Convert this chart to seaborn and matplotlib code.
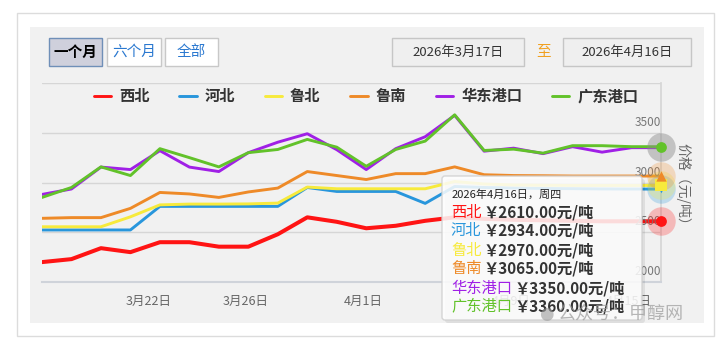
import numpy as np
import pandas as pd
import seaborn as sns
import matplotlib.pyplot as plt
from matplotlib.patches import Rectangle, FancyBboxPatch
import matplotlib.transforms as mtrans

sns.set_theme(style="white")
plt.rcParams['font.family'] = ['Noto Sans CJK SC', 'DejaVu Sans']

# ---------------- data ----------------
dates = ["3/17", "3/18", "3/19", "3/20", "3/23", "3/24", "3/25", "3/26", "3/27",
         "3/30", "3/31", "4/1", "4/2", "4/3", "4/7", "4/8", "4/9", "4/10",
         "4/13", "4/14", "4/15", "4/16"]
series_names = ["西北", "河北", "鲁北", "鲁南", "华东港口", "广东港口"]
xibei = [2200, 2230, 2340, 2300, 2400, 2400, 2355, 2355, 2480, 2650, 2605, 2540,
         2565, 2615, 2650, 2635, 2625, 2620, 2615, 2610, 2610, 2610]
hebei = [2523, 2523, 2523, 2523, 2760, 2760, 2760, 2760, 2760, 2950, 2910, 2910,
         2910, 2790, 2960, 2950, 2945, 2940, 2938, 2935, 2934, 2934]
lubei = [2555, 2555, 2555, 2655, 2775, 2783, 2783, 2785, 2793, 2954, 2937, 2937,
         2937, 2937, 3010, 2985, 2975, 2972, 2970, 2970, 2970, 2970]
lunan = [2640, 2647, 2647, 2740, 2900, 2885, 2850, 2905, 2944, 3110, 3070, 3030,
         3089, 3089, 3157, 3078, 3070, 3068, 3065, 3065, 3065, 3065]
huadong = [2880, 2935, 3155, 3130, 3320, 3155, 3110, 3300, 3405, 3490, 3330, 3130,
           3340, 3460, 3675, 3315, 3345, 3290, 3360, 3305, 3350, 3350]
guangdong = [2850, 2950, 3157, 3070, 3340, 3250, 3157, 3300, 3332, 3433, 3355, 3163,
             3332, 3416, 3680, 3322, 3335, 3295, 3370, 3370, 3360, 3360]
values = [xibei, hebei, lubei, lunan, huadong, guangdong]
colors = ["#ff1414", "#2896dc", "#f7ea3c", "#ee8a28", "#a020e6", "#62c22a"]
tick_labels = ["3月22日", "3月26日", "4月1日", "4月9日", "4月15日"]
tick_pos = [3.63, 6.91, 10.91, 15.91, 19.91]
y_ticks = [2000, 2500, 3000, 3500]
tooltip_date = "2026年4月16日，周四"

df = pd.concat([pd.DataFrame({"idx": np.arange(len(dates)), "date": dates,
                              "series": n, "price": v})
                for n, v in zip(series_names, values)], ignore_index=True)

# ---------------- figure ----------------
W, H = 725, 345
fig = plt.figure(figsize=(W / 100, H / 100), dpi=100)
fig.patch.set_facecolor("white")

def px_axes(zorder):
    a = fig.add_axes([0, 0, 1, 1], zorder=zorder)
    a.set_xlim(0, W)
    a.set_ylim(H, 0)
    a.axis("off")
    a.patch.set_alpha(0)
    return a

bg = px_axes(0)
bg.add_patch(Rectangle((17, 13), 697, 323, fill=False, ec="#dcdcdc", lw=1))
bg.add_patch(Rectangle((30, 27), 674, 296, fc="#f1f1f1", ec="none"))

btns = [("一个月", 49, 102, True), ("六个月", 107, 161, False), ("全部", 165, 218, False)]
for txt, x0, x1, sel in btns:
    bg.add_patch(Rectangle((x0, 38), x1 - x0, 28,
                           fc="#cfd0dc" if sel else "white",
                           ec="#6f8fb8" if sel else "#c8c8c8", lw=1))
    bg.text((x0 + x1) / 2, 52, txt, ha="center", va="center", fontsize=10.5,
            color="black" if sel else "#2a78d0", fontweight="bold" if sel else "normal")
for txt, x0, x1 in [("2026年3月17日", 392, 524), ("2026年4月16日", 563, 691)]:
    bg.add_patch(Rectangle((x0, 38), x1 - x0, 28, fc="#efefef", ec="#c6c6c6", lw=1))
    bg.text((x0 + x1) / 2, 52, txt, ha="center", va="center", fontsize=9.5, color="#333333")
bg.text(544, 52, "至", ha="center", va="center", fontsize=10.5, color="#f0a020")

# ---------------- main plot ----------------
x_left, x_right, y_top, y_bot = 42, 661, 83, 282
ax = fig.add_axes([x_left / W, (H - y_bot) / H, (x_right - x_left) / W, (y_bot - y_top) / H],
                  zorder=1)
ax.patch.set_alpha(0)
pal = dict(zip(series_names, colors))
sns.lineplot(data=df, x="idx", y="price", hue="series", palette=pal,
             hue_order=series_names, ax=ax, linewidth=2.1, legend=True)
for ln, n in zip(ax.lines, series_names):
    if n == "西北":
        ln.set_linewidth(2.9)

ax.set_xlim(0, len(dates) - 1)
ax.set_ylim(2000, 4000)
ax.set_yticks([2000, 2500, 3000, 3500, 4000])
ax.set_yticklabels([])
ax.tick_params(axis="y", length=0)
ax.grid(axis="y", color="#d6d6d6", lw=1)
ax.set_xticks(tick_pos)
ax.set_xticklabels(tick_labels, fontsize=9, color="#666666")
ax.tick_params(axis="x", length=7, color="#cfd3da", width=1, pad=2)
ax.set_xlabel("")
ax.set_ylabel("")
for s in ["left", "top"]:
    ax.spines[s].set_visible(False)
ax.spines["bottom"].set_color("#cfd3da")
ax.spines["right"].set_color("#d6d6d6")
ax.spines["bottom"].set_linewidth(1.5)

tr = mtrans.blended_transform_factory(ax.transAxes, ax.transData)
for v in y_ticks:
    ax.text(1.0, v + 40, str(v), transform=tr, ha="right", va="bottom",
            fontsize=8.5, color="#777777")
fig.text(683 / W, 1 - 187 / H, "价格（元/吨）", rotation=-90, ha="center", va="center",
         fontsize=10, color="#666666")

# end-point halos & markers
last = len(dates) - 1
markers = ["o", "v", "s", "^", "o", "o"]
msizes = [60, 30, 80, 55, 50, 60]
for n, v, c in zip(series_names, values, colors):
    if n in ("华东港口", "广东港口"):
        continue
    ax.scatter([last], [v[-1]], s=420, color=c, alpha=0.25, lw=0, clip_on=False, zorder=4)
ax.scatter([last], [guangdong[-1]], s=420, color="#8a8a8a", alpha=0.45, lw=0,
           clip_on=False, zorder=4)
for n, v, c, m, s in zip(series_names, values, colors, markers, msizes):
    if n == "华东港口":
        continue
    ax.scatter([last], [v[-1]], s=s, color=c, marker=m, lw=0, clip_on=False, zorder=5)

# legend
leg = ax.get_legend()
handles, labels = ax.get_legend_handles_labels()
leg.remove()
lg = fig.legend(handles, labels, loc="center", bbox_to_anchor=(366 / W, 1 - 96 / H),
                ncol=6, frameon=False, handlelength=1.15, handletextpad=0.5,
                columnspacing=1.95, prop={"weight": "bold", "size": 11})
for t in lg.get_texts():
    t.set_color("#333333")

# ---------------- tooltip overlay ----------------
top = px_axes(5)
top.add_patch(FancyBboxPatch((445, 179), 200, 144, boxstyle="round,pad=0,rounding_size=3",
                             fc="#000000", ec="none", alpha=0.08))
top.add_patch(FancyBboxPatch((442, 176), 200, 144, boxstyle="round,pad=0,rounding_size=3",
                             fc="white", ec="#cfcfcf", lw=1, alpha=0.85))
top.text(452, 195, tooltip_date, ha="left", va="center", fontsize=8, color="#222222")
ys = [213, 231, 250, 268, 288, 306]
for n, v, c, yy in zip(series_names, values, colors, ys):
    t = top.text(451, yy, n, ha="left", va="center", fontsize=11, color=c)
    top.annotate("￥%.2f元/吨" % v[-1], xy=(1, 0.5), xycoords=t, xytext=(1.5, 0),
                 textcoords="offset points", ha="left", va="center", fontsize=11,
                 fontweight="bold", color="#333333")

# watermark
top.text(546, 314, "●", ha="center", va="center", fontsize=12, color="#9a9a9a", alpha=0.6,
         family="DejaVu Sans")
top.text(557, 314, "公众号：甲醇网", ha="left", va="center", fontsize=13, color="#9a9a9a",
         alpha=0.7)

fig.savefig("out.png", dpi=100)
